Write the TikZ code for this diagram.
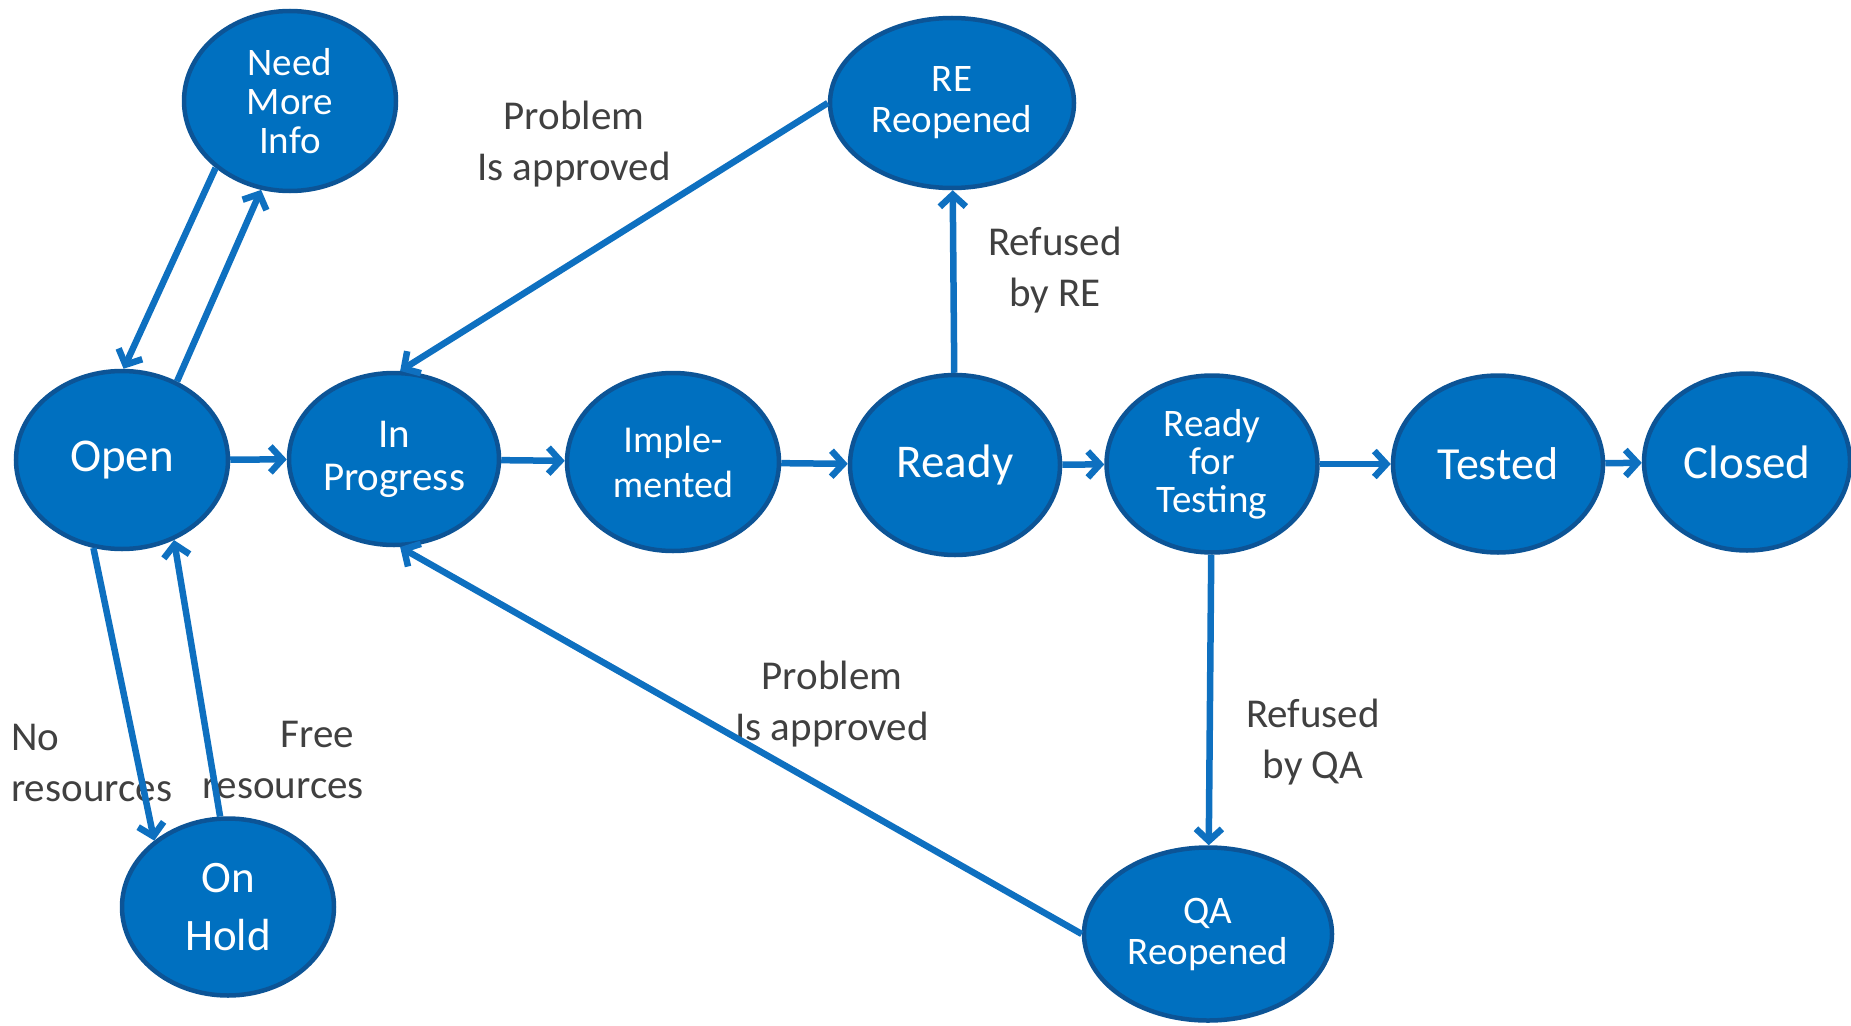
\documentclass[tikz,border=0pt]{standalone}
\usepackage{fontspec}
\setmainfont{Carlito}
\usetikzlibrary{shapes.geometric,arrows.meta}
\definecolor{nodefill}{RGB}{0,112,192}
\definecolor{nodeborder}{RGB}{12,84,150}
\definecolor{arrowcol}{RGB}{14,112,192}
\definecolor{labelcol}{RGB}{64,64,64}
\begin{document}
\begin{tikzpicture}[x=1pt,y=-1pt,
  state/.style={ellipse, fill=nodefill, draw=nodeborder, line width=4.5pt, text=white, align=center, inner xsep=-40pt, inner ysep=-40pt},
  conn/.style={draw=arrowcol, line width=6.5pt, -{Straight Barb[length=12pt,width=26pt]}},
  lbl/.style={text=labelcol, align=center, font=\fontsize{41}{51}\selectfont, inner sep=0pt}]
\useasboundingbox (0,0) rectangle (1851,1025);

% labels (drawn first so lines pass over them)
\node[lbl] (l1) at (574,144) {Problem\\Is approved};
\node[lbl] (l2) at (1055,270) {Refused\\by RE};
\node[lbl] (l3) at (832,704) {Problem\\Is approved};
\node[lbl] (l4) at (1313,742) {Refused\\by QA};
\node[lbl, align=left, anchor=west] (l5) at (11,763) {No\\resources};
\node[lbl, align=right, anchor=east] (l6) at (364,760) {Free\hspace*{0.23em}\\resources};

% states
\node[state, minimum width=212pt, minimum height=180pt, font=\fontsize{39}{39}\selectfont] (nmi) at (290,101) {Need\\More\\Info};
\node[state, minimum width=244pt, minimum height=170pt, font=\fontsize{39}{41}\selectfont] (re) at (952,103) {RE\\Reopened};
\node[state, minimum width=212pt, minimum height=178pt, font=\fontsize{47}{56}\selectfont] (open) at (122,460) {Open};
\node[state, minimum width=210pt, minimum height=172pt, font=\fontsize{41}{43}\selectfont] (ip) at (394,459) {In\\Progress};
\node[state, minimum width=212pt, minimum height=178pt, font=\fontsize{38}{45}\selectfont] (impl) at (673,462) {Imple-\\mented};
\node[state, minimum width=210pt, minimum height=180pt, font=\fontsize{47}{56}\selectfont] (ready) at (955,465) {Ready};
\node[state, minimum width=211pt, minimum height=177pt, font=\fontsize{39}{38}\selectfont] (rft) at (1212,464) {Ready\\for\\Testing};
\node[state, minimum width=210pt, minimum height=177pt, font=\fontsize{46}{56}\selectfont] (tested) at (1498,464) {Tested};
\node[state, minimum width=206pt, minimum height=177pt, font=\fontsize{47}{56}\selectfont] (closed) at (1747,462) {Closed};
\node[state, minimum width=212pt, minimum height=177pt, font=\fontsize{45}{58}\selectfont] (hold) at (228,907) {On\\Hold};
\node[state, minimum width=248pt, minimum height=173pt, font=\fontsize{39}{41}\selectfont] (qa) at (1208,934) {QA\\Reopened};

% connectors
\draw[conn] (nmi.222) -- (open.89);
\draw[conn] (open.55) -- (nmi.252);
\draw[conn] (open.252) -- (hold.138);
\draw[conn] (hold.95) -- (open.303);
\draw[conn] (open) -- (ip);
\draw[conn] (ip) -- (impl);
\draw[conn] (impl) -- (ready);
\draw[conn] (ready) -- (rft);
\draw[conn] (rft) -- (tested);
\draw[conn] (tested) -- (closed);
\draw[conn] (ready) -- (re);
\draw[conn] (rft) -- (qa);
\draw[conn] (re.180) -- (ip.86);
\draw[conn] (qa.180) -- (ip.274);
\end{tikzpicture}
\end{document}
